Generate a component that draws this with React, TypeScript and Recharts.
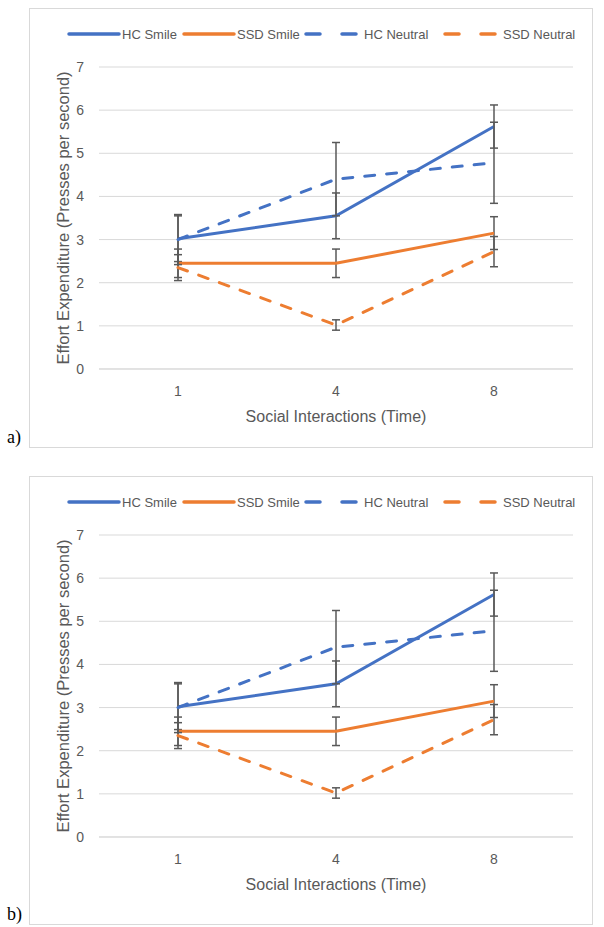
import React from 'react'
import { LineChart, Line, XAxis, YAxis, CartesianGrid, ErrorBar } from 'recharts'

// values (both panels show the same data)
const times = ['1', '4', '8']
const hcSmile = [3.02, 3.55, 5.62]
const hcSmileErr = [0.53, 0.53, 0.5]
const ssdSmile = [2.45, 2.45, 3.15]
const ssdSmileErr = [0.33, 0.33, 0.38]
const hcNeutral = [3.0, 4.4, 4.78]
const hcNeutralErr = [0.58, 0.85, 0.94]
const ssdNeutral = [2.35, 1.02, 2.72]
const ssdNeutralErr = [0.3, 0.12, 0.35]
const yTicks = [0, 1, 2, 3, 4, 5, 6, 7]

const data = times.map((t, i) => ({
    time: t,
    hcSmile: hcSmile[i],
    hcSmileErr: hcSmileErr[i],
    ssdSmile: ssdSmile[i],
    ssdSmileErr: ssdSmileErr[i],
    hcNeutral: hcNeutral[i],
    hcNeutralErr: hcNeutralErr[i],
    ssdNeutral: ssdNeutral[i],
    ssdNeutralErr: ssdNeutralErr[i],
}))

const BLUE = '#4472C4'
const ORANGE = '#ED7D31'
const GREY = '#595959'
const FONT = '"Liberation Sans", Arial, sans-serif'

const legendItems = [
    { name: 'HC Smile', color: BLUE, dashed: false, left: 37 },
    { name: 'SSD Smile', color: ORANGE, dashed: false, left: 152 },
    { name: 'HC Neutral', color: BLUE, dashed: true, left: 274 },
    { name: 'SSD Neutral', color: ORANGE, dashed: true, left: 413 },
]

interface PanelProps {
    top: number
    height: number
    tag: string
}

const Panel: React.FC<PanelProps> = ({ top, height, tag }) => {
    const chartH = height - 2
    return (
        <>
            <div style={{ position: 'absolute', left: 7, top: top + height - 21, fontFamily: '"Liberation Serif", serif', fontSize: 18, color: '#000' }}>
                {tag}
            </div>
            <div style={{ position: 'absolute', left: 29, top, width: 562, height: chartH, border: '1px solid #d9d9d9', background: '#fff' }}>
                {legendItems.map((it) => (
                    <div key={it.name} style={{ position: 'absolute', left: it.left, top: 17, height: 16, display: 'flex', alignItems: 'center', fontFamily: FONT, fontSize: 13, color: GREY, whiteSpace: 'nowrap' }}>
                        <svg width={54} height={16}>
                            <line x1={2} y1={8} x2={52} y2={8} stroke={it.color} strokeWidth={3.5} strokeLinecap="round"
                                strokeDasharray={it.dashed ? '14 22' : undefined} />
                        </svg>
                        <span style={{ marginLeft: it.dashed ? 6 : 1 }}>{it.name}</span>
                    </div>
                ))}
                <LineChart width={562} height={chartH} data={data} margin={{ top: 58, right: 19, left: 29, bottom: 0 }}>
                    <CartesianGrid vertical={false} stroke="#d9d9d9" strokeWidth={1} />
                    <XAxis
                        dataKey="time"
                        height={chartH - 58 - 302}
                        padding={{ left: 79, right: 79 }}
                        axisLine={{ stroke: '#d9d9d9' }}
                        tickLine={false}
                        tickSize={0}
                        tickMargin={17}
                        tick={{ fill: GREY, fontSize: 14, fontFamily: FONT }}
                        label={(p: any) => (
                            <text x={p.viewBox.x + p.viewBox.width / 2} y={p.viewBox.y + 47} textAnchor="middle" dominantBaseline="central"
                                fill={GREY} fontSize={16} fontFamily={FONT}>Social Interactions (Time)</text>
                        )}
                    />
                    <YAxis
                        width={40}
                        domain={[0, 7]}
                        ticks={yTicks}
                        axisLine={false}
                        tickLine={false}
                        tickSize={0}
                        tickMargin={15}
                        tick={{ fill: GREY, fontSize: 14, fontFamily: FONT }}
                        label={(p: any) => {
                            const cx = p.viewBox.x + 4
                            const cy = p.viewBox.y + p.viewBox.height / 2
                            return (
                                <text x={cx} y={cy} transform={`rotate(-90, ${cx}, ${cy})`} textAnchor="middle" dominantBaseline="central"
                                    fill={GREY} fontSize={16.5} fontFamily={FONT}>Effort Expenditure (Presses per second)</text>
                            )
                        }}
                    />
                    <Line dataKey="hcSmile" stroke={BLUE} strokeWidth={3} dot={false} isAnimationActive={false}>
                        <ErrorBar dataKey="hcSmileErr" direction="y" width={4} stroke={GREY} strokeWidth={1.5} />
                    </Line>
                    <Line dataKey="ssdSmile" stroke={ORANGE} strokeWidth={3} dot={false} isAnimationActive={false}>
                        <ErrorBar dataKey="ssdSmileErr" direction="y" width={4} stroke={GREY} strokeWidth={1.5} />
                    </Line>
                    <Line dataKey="hcNeutral" stroke={BLUE} strokeWidth={3} strokeDasharray="10 12" strokeLinecap="round" dot={false} isAnimationActive={false}>
                        <ErrorBar dataKey="hcNeutralErr" direction="y" width={4} stroke={GREY} strokeWidth={1.5} />
                    </Line>
                    <Line dataKey="ssdNeutral" stroke={ORANGE} strokeWidth={3} strokeDasharray="10 12" strokeLinecap="round" dot={false} isAnimationActive={false}>
                        <ErrorBar dataKey="ssdNeutralErr" direction="y" width={4} stroke={GREY} strokeWidth={1.5} />
                    </Line>
                </LineChart>
            </div>
        </>
    )
}

export default function App() {
    return (
        <div style={{ position: 'absolute', left: 0, top: 0, width: 604, height: 927, background: '#fff' }}>
            <Panel top={8} height={440} tag="a)" />
            <Panel top={476} height={449} tag="b)" />
        </div>
    )
}
